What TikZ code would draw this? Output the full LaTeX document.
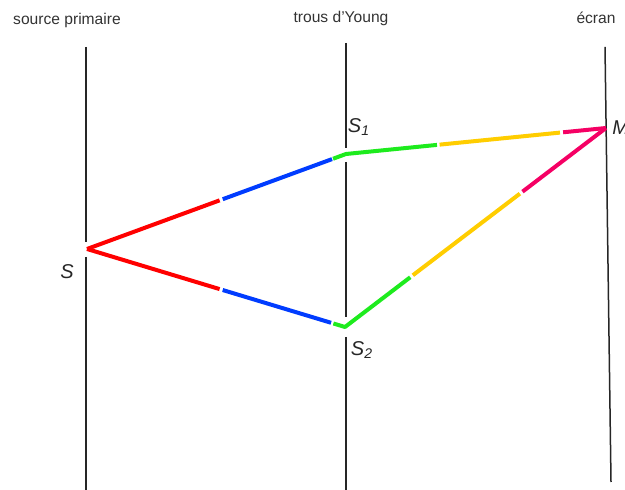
\documentclass[tikz,border=0pt]{standalone}
\usepackage{fontspec}
\setmainfont{Liberation Sans}
\usetikzlibrary{calc}
\definecolor{rayred}{RGB}{255,0,0}
\definecolor{rayblue}{RGB}{0,60,255}
\definecolor{raygreen}{RGB}{30,235,30}
\definecolor{rayyellow}{RGB}{255,205,0}
\definecolor{raypink}{RGB}{245,0,100}
\begin{document}
\begin{tikzpicture}[x=0.5pt,y=-0.5pt,
    ray/.style={line width=2pt,line join=round},
    screen/.style={line width=0.75pt,black!85},
    title/.style={font=\fontsize{7.8}{9}\selectfont,text=black!80},
    point/.style={font=\fontsize{10}{12}\selectfont\itshape,text=black!85}]
    \useasboundingbox(0,0)rectangle(625,490);
    % screens
    \draw[screen](86,47)--(86,242) (86,257)--(86,490);
    \draw[screen](346,43)--(346,148) (346,162)--(346,317) (346,337)--(346,490);
    \draw[screen](605,47)--(611,482);
    \node[title](source)at(67,20){source primaire};
    \node[title](young)at(341,18){trous d'Young};
    \node[title](ecran)at(596,18){écran};
    \coordinate(S)at(87,249);
    \coordinate(S1)at(346,154);
    \coordinate(S2)at(345,327);
    \coordinate(M)at(606,128);
    \node[point](lS)at(67,272){S};
    \node[point](lS1)at(359,127){S\textsubscript{1}};
    \node[point](lS2)at(362,350){S\textsubscript{2}};
    \node[point,anchor=west,inner sep=1pt](lM)at(610,128){M};
    % upper path
    \draw[ray,rayred](S)--($(S)!0.512!(S1)$);
    \draw[ray,rayblue]($(S)!0.524!(S1)$)--($(S)!0.946!(S1)$);
    \draw[ray,raygreen]($(S)!0.95!(S1)$)--(S1)--($(S1)!0.35!(M)$);
    \draw[ray,rayyellow]($(S1)!0.36!(M)$)--($(S1)!0.823!(M)$);
    \draw[ray,raypink]($(S1)!0.835!(M)$)--(M);
    % lower path
    \draw[ray,rayred](S)--($(S)!0.514!(S2)$);
    \draw[ray,rayblue]($(S)!0.526!(S2)$)--($(S)!0.946!(S2)$);
    \draw[ray,raygreen]($(S)!0.955!(S2)$)--(S2)--($(S2)!0.25!(M)$);
    \draw[ray,rayyellow]($(S2)!0.26!(M)$)--($(S2)!0.67!(M)$);
    \draw[ray,raypink]($(S2)!0.68!(M)$)--(M);
\end{tikzpicture}
\end{document}
